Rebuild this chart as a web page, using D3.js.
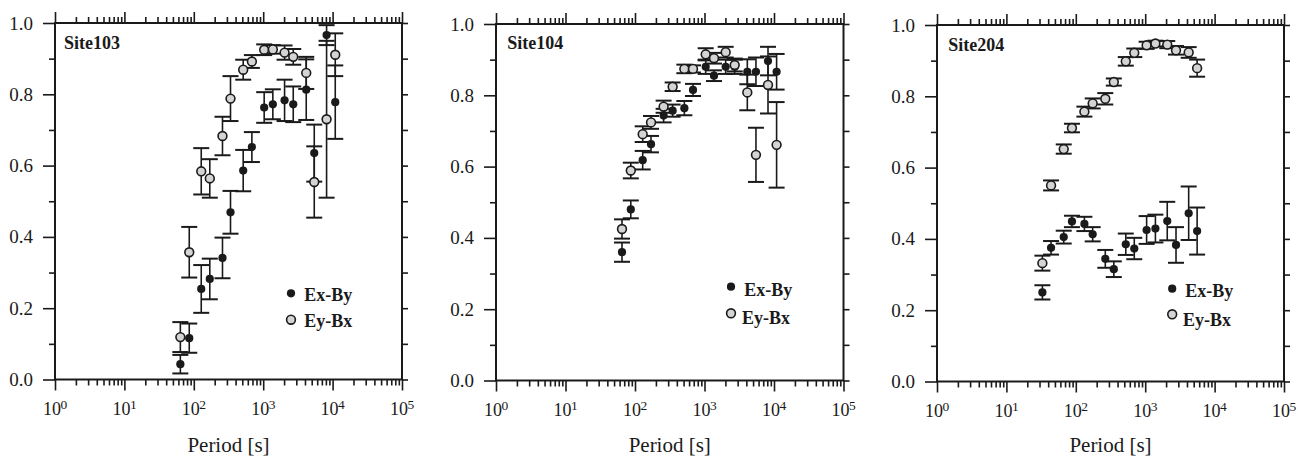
<!DOCTYPE html>
<html>
<head>
<meta charset="utf-8">
<script src="https://cdn.jsdelivr.net/npm/d3@7"></script>
<style>
  body { margin: 0; background: #fff; }
  text { font-family: "Liberation Serif", "Times New Roman", serif; fill: #1a1a1a; }
</style>
</head>
<body>
<svg id="chart" width="1298" height="457"></svg>
<script>
  /* Data */

  let siteNames = ["Site103", "Site104", "Site204"]
  let legendLabels = ["Ex-By", "Ey-Bx"]
  let xDecades = [0, 1, 2, 3, 4, 5]
  let yTickLabels = [0, 0.2, 0.4, 0.6, 0.8, 1.0]
  let yMinorTicks = [0.1, 0.3, 0.5, 0.7, 0.9]
  let xAxisTitle = "Period [s]"

  // Site103
  let period_103 = [64, 86, 128, 170, 259, 338, 515, 687, 1033, 1377, 2032, 2710, 4170, 5440, 8190, 10920]
  let exby_103 = [0.043, 0.116, 0.254, 0.282, 0.341, 0.469, 0.586, 0.652, 0.763, 0.772, 0.783, 0.772, 0.813, 0.635, 0.966, 0.778]
  let exbyErr_103 = [0.026, 0.041, 0.067, 0.057, 0.057, 0.06, 0.058, 0.042, 0.043, 0.042, 0.058, 0.05, 0.085, 0.08, 0.028, 0.103]
  let eybx_103 = [0.119, 0.357, 0.584, 0.564, 0.683, 0.788, 0.869, 0.892, 0.925, 0.926, 0.917, 0.905, 0.86, 0.554, 0.73, 0.911]
  let eybxErr_103 = [0.042, 0.071, 0.065, 0.054, 0.054, 0.063, 0.028, 0.018, 0.015, 0.012, 0.02, 0.022, 0.045, 0.1, 0.22, 0.06]

  // Site104
  let period_104 = [65, 87, 129, 170, 258, 348, 513, 683, 1040, 1370, 2017, 2720, 4130, 5500, 8200, 10900]
  let exby_104 = [0.36, 0.48, 0.618, 0.663, 0.743, 0.757, 0.764, 0.815, 0.88, 0.855, 0.88, 0.88, 0.866, 0.866, 0.896, 0.866]
  let exbyErr_104 = [0.027, 0.025, 0.026, 0.023, 0.019, 0.017, 0.02, 0.017, 0.02, 0.015, 0.02, 0.02, 0.035, 0.04, 0.04, 0.05]
  let eybx_104 = [0.425, 0.589, 0.691, 0.724, 0.768, 0.824, 0.874, 0.874, 0.915, 0.904, 0.921, 0.885, 0.808, 0.633, 0.829, 0.661]
  let eybxErr_104 = [0.027, 0.022, 0.022, 0.018, 0.017, 0.012, 0.012, 0.01, 0.017, 0.015, 0.015, 0.018, 0.05, 0.076, 0.08, 0.12]

  // Site204
  let period_204 = [33, 44, 67, 88, 133, 175, 266, 353, 525, 696, 1048, 1403, 2078, 2780, 4230, 5600]
  let exby_204 = [0.25, 0.375, 0.405, 0.449, 0.442, 0.413, 0.344, 0.315, 0.385, 0.373, 0.425, 0.429, 0.45, 0.383, 0.472, 0.422]
  let exbyErr_204 = [0.02, 0.019, 0.018, 0.016, 0.02, 0.02, 0.025, 0.022, 0.03, 0.03, 0.039, 0.039, 0.054, 0.05, 0.075, 0.066]
  let eybx_204 = [0.332, 0.55, 0.652, 0.711, 0.757, 0.78, 0.793, 0.84, 0.898, 0.922, 0.943, 0.948, 0.945, 0.929, 0.923, 0.879]
  let eybxErr_204 = [0.021, 0.014, 0.013, 0.012, 0.014, 0.014, 0.016, 0.01, 0.012, 0.012, 0.01, 0.008, 0.01, 0.012, 0.015, 0.024]

  /* Layout */

  let panels = [
    {box: {left: 55, right: 402, top: 23, bottom: 379.5},
     label: {x: 64, y: 49.3},
     legend: {mx: 291, my: [293.3, 319.7], tx: [304.3, 304.3], ty: [300.5, 326.5]},
     period: period_103, exby: exby_103, exbyErr: exbyErr_103, eybx: eybx_103, eybxErr: eybxErr_103},
    {box: {left: 496, right: 843.5, top: 24, bottom: 380.5},
     label: {x: 507.3, y: 49.3},
     legend: {mx: 731, my: [286.7, 313.3], tx: [744.3, 742], ty: [295.5, 323.5]},
     period: period_104, exby: exby_104, exbyErr: exbyErr_104, eybx: eybx_104, eybxErr: eybxErr_104},
    {box: {left: 937, right: 1284, top: 25, bottom: 381.5},
     label: {x: 948.3, y: 50.7},
     legend: {mx: 1172.2, my: [288.7, 314.3], tx: [1185.3, 1183], ty: [297, 325.5]},
     period: period_204, exby: exby_204, exbyErr: exbyErr_204, eybx: eybx_204, eybxErr: eybxErr_204}
  ]

  let ink = "#1a1a1a"
  let grayFill = "#d4d4d4"

  let svg = d3.select("#chart")

  function minorTicks(){
    let out = []
    for (let k = 0; k < 5; k++){
      for (let m = 2; m <= 9; m++) out.push(m * Math.pow(10, k))
    }
    return out
  }

  function styleAxis(g){
    g.select(".domain").remove()
    g.selectAll("line").attr("stroke", ink).attr("stroke-width", 1.6)
  }

  function drawSeries(g, x, y, periods, values, errs, isGray){
    let pts = periods.map(function(p, i){ return {p: p, v: values[i], e: errs[i]} })
    let bars = g.append("g")
    pts.forEach(function(d){
      let cx = x(d.p)
      bars.append("line")
        .attr("x1", cx).attr("x2", cx)
        .attr("y1", y(d.v - d.e)).attr("y2", y(d.v + d.e))
        .attr("stroke", ink).attr("stroke-width", 1.6)
      ;[d.v - d.e, d.v + d.e].forEach(function(c){
        bars.append("line")
          .attr("x1", cx - 8).attr("x2", cx + 8)
          .attr("y1", y(c)).attr("y2", y(c))
          .attr("stroke", ink).attr("stroke-width", 2)
      })
    })
    g.append("g").selectAll("circle")
      .data(pts)
      .enter()
      .append("circle")
      .attr("cx", function(d){ return x(d.p) })
      .attr("cy", function(d){ return y(d.v) })
      .attr("r", isGray ? 4.4 : 4.1)
      .attr("fill", isGray ? grayFill : ink)
      .attr("stroke", isGray ? ink : "none")
      .attr("stroke-width", 1.6)
  }

  function drawPanel(panel, idx){
    let b = panel.box
    let x = d3.scaleLog().domain([1, 1e5]).range([b.left, b.right])
    let y = d3.scaleLinear().domain([0, 1]).range([b.bottom, b.top])
    let g = svg.append("g")

    let majors = xDecades.map(function(k){ return Math.pow(10, k) })

    // bottom axis
    g.append("g").attr("transform", `translate(0,${b.bottom})`)
      .call(d3.axisBottom(x).tickValues(majors).tickSize(11).tickFormat(""))
      .call(styleAxis)
    g.append("g").attr("transform", `translate(0,${b.bottom})`)
      .call(d3.axisBottom(x).tickValues(minorTicks()).tickSize(6).tickFormat(""))
      .call(styleAxis)
    // top axis
    g.append("g").attr("transform", `translate(0,${b.top})`)
      .call(d3.axisTop(x).tickValues(majors).tickSize(11).tickFormat(""))
      .call(styleAxis)
    g.append("g").attr("transform", `translate(0,${b.top})`)
      .call(d3.axisTop(x).tickValues(minorTicks()).tickSize(6).tickFormat(""))
      .call(styleAxis)
    // left axis
    let yl = g.append("g").attr("transform", `translate(${b.left},0)`)
      .call(d3.axisLeft(y).tickValues(yTickLabels).tickSize(12).tickPadding(10).tickFormat(d3.format(".1f")))
      .call(styleAxis)
    yl.selectAll("text").attr("font-size", 19).attr("font-family", "Liberation Serif, serif").attr("fill", ink)
    g.append("g").attr("transform", `translate(${b.left},0)`)
      .call(d3.axisLeft(y).tickValues(yMinorTicks).tickSize(6).tickFormat(""))
      .call(styleAxis)
    // right axis
    g.append("g").attr("transform", `translate(${b.right},0)`)
      .call(d3.axisRight(y).tickValues(yTickLabels.concat(yMinorTicks)).tickSize(6).tickFormat(""))
      .call(styleAxis)

    // frame
    g.append("rect")
      .attr("x", b.left).attr("y", b.top)
      .attr("width", b.right - b.left).attr("height", b.bottom - b.top)
      .attr("fill", "none").attr("stroke", ink).attr("stroke-width", 2)

    // x tick labels 10^k
    xDecades.forEach(function(k){
      let px = x(Math.pow(10, k))
      g.append("text").attr("x", px - 3).attr("y", b.bottom + 35)
        .attr("text-anchor", "middle").attr("font-size", 18).text("10")
      g.append("text").attr("x", px + 5.5).attr("y", b.bottom + 29)
        .attr("font-size", 13.5).text(k)
    })

    g.append("text")
      .attr("x", (b.left + b.right) / 2).attr("y", 452)
      .attr("text-anchor", "middle").attr("font-size", 21)
      .text(xAxisTitle)

    // site label
    g.append("text").attr("x", panel.label.x).attr("y", panel.label.y)
      .attr("font-size", 18).attr("font-weight", "bold")
      .text(siteNames[idx])

    drawSeries(g, x, y, panel.period, panel.exby, panel.exbyErr, false)
    drawSeries(g, x, y, panel.period, panel.eybx, panel.eybxErr, true)

    // legend
    let L = panel.legend
    g.append("circle").attr("cx", L.mx).attr("cy", L.my[0]).attr("r", 4.1).attr("fill", ink)
    g.append("circle").attr("cx", L.mx).attr("cy", L.my[1]).attr("r", 4.4)
      .attr("fill", grayFill).attr("stroke", ink).attr("stroke-width", 1.6)
    legendLabels.forEach(function(t, i){
      g.append("text").attr("x", L.tx[i]).attr("y", L.ty[i])
        .attr("font-size", 18).attr("font-weight", "bold").text(t)
    })
  }

  panels.forEach(drawPanel)
</script>
</body>
</html>
